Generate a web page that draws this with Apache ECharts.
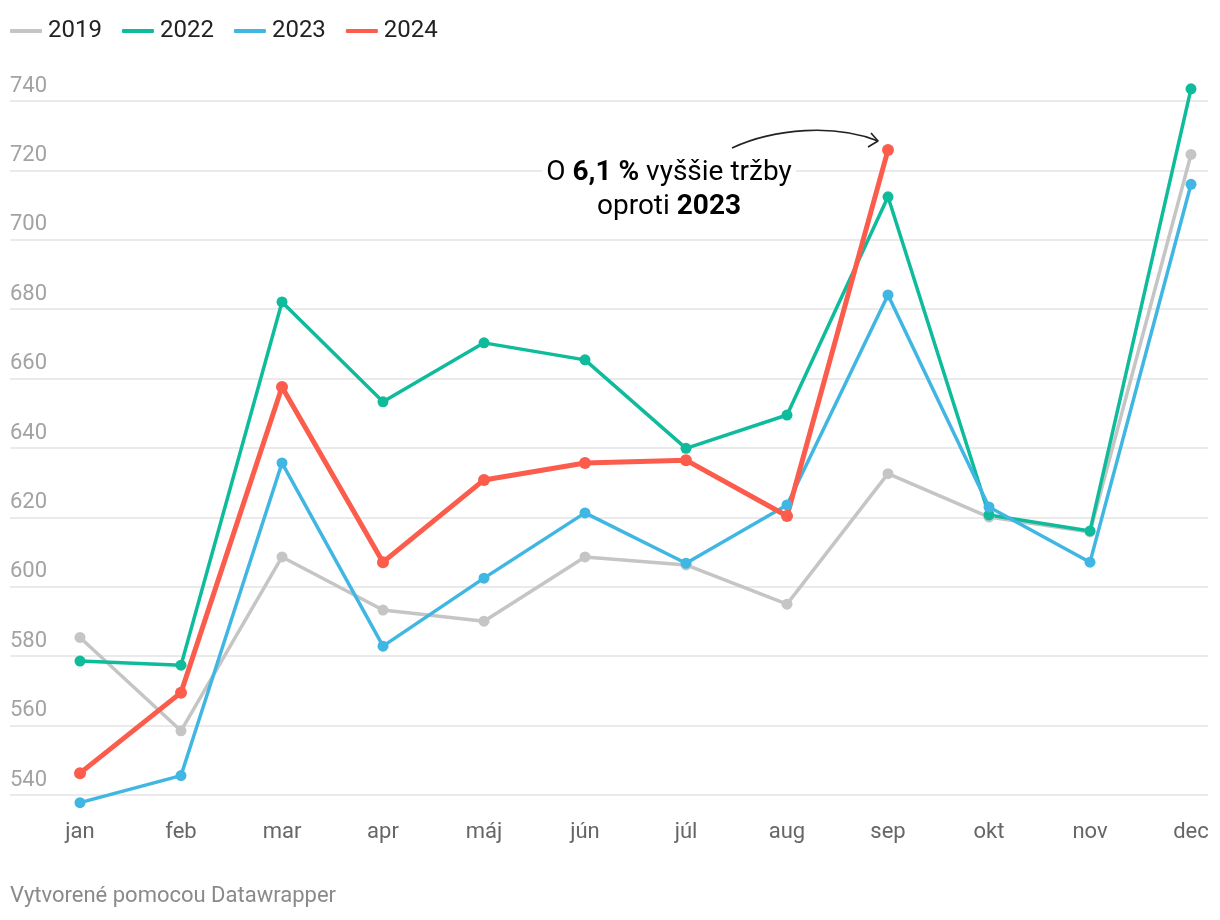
<!DOCTYPE html>
<html><head><meta charset="utf-8">
<script src="https://cdn.jsdelivr.net/npm/echarts@6/dist/echarts.min.js"></script>
<style>html,body{margin:0;padding:0;background:#fff}#c{width:1220px;height:920px}</style>
</head><body><div id="c"></div>
<script>
const months = ['jan','feb','mar','apr','máj','jún','júl','aug','sep','okt','nov','dec'];
const s2019 = [585.4, 558.5, 608.6, 593.3, 590.1, 608.6, 606.3, 595.0, 632.6, 620.1, 615.8, 724.6];
const s2022 = [578.6, 577.4, 682.1, 653.3, 670.3, 665.4, 639.9, 649.5, 712.4, 620.7, 616.1, 743.5];
const s2023 = [537.8, 545.6, 635.7, 582.9, 602.5, 621.3, 606.8, 623.6, 684.1, 623.0, 607.1, 716.0];
const s2024 = [546.3, 569.5, 657.6, 607.1, 630.8, 635.7, 636.5, 620.4, 725.9];
const yTicks = [540, 560, 580, 600, 620, 640, 660, 680, 700, 720, 740];

const colors = {'2019':'#c5c5c5','2022':'#0ebb9b','2023':'#40b6e3','2024':'#fc5c4b'};
const font = 'Roboto, "Noto Sans", sans-serif';

function mk(name, data, w, sz){
  return {name, type:'line', data, xAxisIndex:1, yAxisIndex:1, clip:false,
    symbol:'circle', symbolSize:sz, showSymbol:true,
    lineStyle:{width:w, color:colors[name], join:'round'},
    itemStyle:{color:colors[name]},
    emphasis:{disabled:true}, animation:false};
}

const chart = echarts.init(document.getElementById('c'), null, {renderer:'canvas'});
chart.setOption({
  animation:false,
  textStyle:{fontFamily:font},
  legend:{left:10, top:19, padding:0, itemWidth:32, itemHeight:4, itemGap:20, icon:'roundRect',
    textStyle:{fontSize:24, color:'#222', fontFamily:font, padding:[0,0,0,1]},
    data:['2019','2022','2023','2024']},
  grid:[
    {left:10, right:12, top:101, bottom:125},
    {left:80, right:29, top:101, bottom:125}
  ],
  xAxis:[
    {gridIndex:0, type:'category', data:months, show:false},
    {gridIndex:1, type:'category', data:months, boundaryGap:false,
     axisLine:{show:false}, axisTick:{show:false},
     axisLabel:{fontSize:22, color:'#666', margin:26, fontFamily:font}, splitLine:{show:false}}
  ],
  yAxis:[
    {gridIndex:0, type:'value', min:yTicks[0], max:yTicks[yTicks.length-1], interval:20,
     axisLine:{show:false}, axisTick:{show:false},
     axisLabel:{inside:true, margin:0, verticalAlign:'bottom', align:'left', fontSize:22,
       color:'#a3a3a3', padding:[0,0,4,0], fontFamily:font},
     splitLine:{lineStyle:{color:'#e3e3e3', width:1.5}}},
    {gridIndex:1, type:'value', min:yTicks[0], max:yTicks[yTicks.length-1], interval:20, show:false}
  ],
  series:[
    mk('2019', s2019, 3.5, 11),
    mk('2022', s2022, 3.5, 11),
    mk('2023', s2023, 3.5, 11),
    mk('2024', s2024, 5, 12)
  ],
  graphic:[
    {type:'text', x:669, y:173, z:50,
     style:{text:'{n|O }{b|6,1 %}{n| vyššie tržby}', textAlign:'center', textVerticalAlign:'middle',
       backgroundColor:'#fff', padding:[0,4],
       rich:{n:{fontSize:28, fontFamily:font, color:'#222'}, b:{fontSize:28, fontWeight:'bold', fontFamily:font, color:'#222'}}}},
    {type:'text', x:669, y:207, z:50,
     style:{text:'{n|oproti }{b|2023}', textAlign:'center', textVerticalAlign:'middle',
       backgroundColor:'#fff', padding:[0,4],
       rich:{n:{fontSize:28, fontFamily:font, color:'#222'}, b:{fontSize:28, fontWeight:'bold', fontFamily:font, color:'#222'}}}},
    {type:'bezierCurve', z:50, shape:{x1:732, y1:148, x2:878, y2:141, cpx1:775, cpy1:128, cpx2:835, cpy2:124},
     style:{stroke:'#222', lineWidth:1.6, fill:null}},
    {type:'polyline', z:50, shape:{points:[[871,133],[878,141],[868,147]]},
     style:{stroke:'#222', lineWidth:1.6, fill:null, lineJoin:'round'}},
    {type:'text', x:10, y:896, style:{text:'Vytvorené pomocou Datawrapper', fontSize:22, fontFamily:font, fill:'#8a8a8a', textVerticalAlign:'middle'}}
  ]
});
</script></body></html>
